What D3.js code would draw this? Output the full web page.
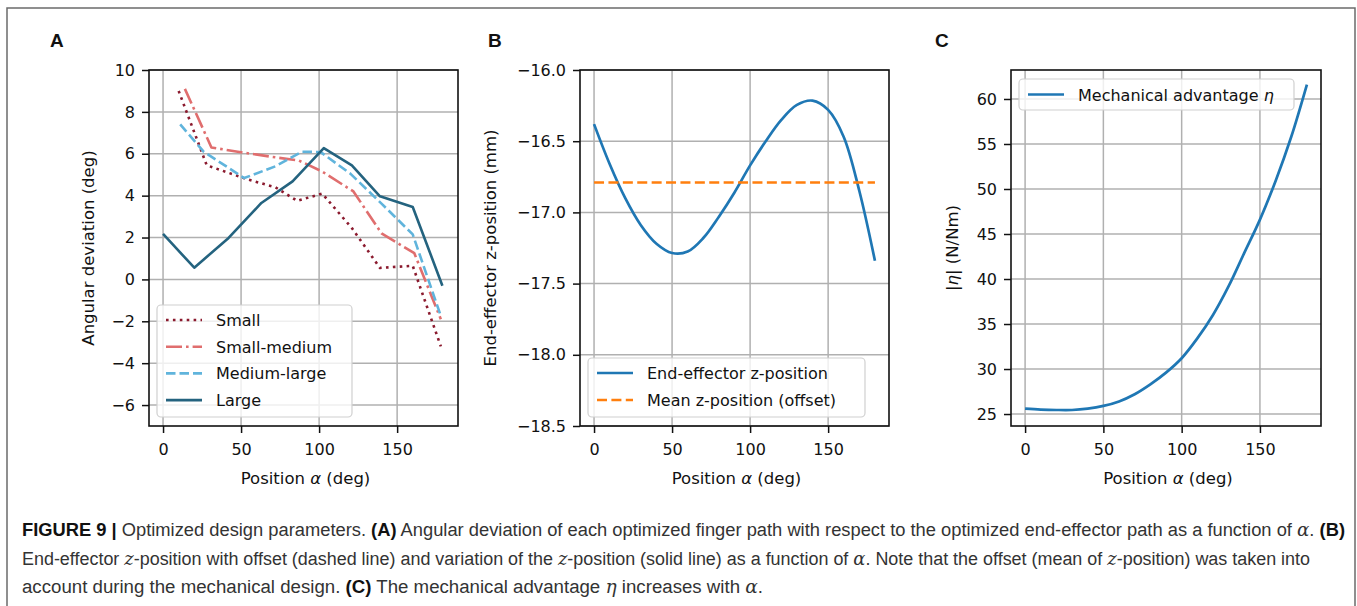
<!DOCTYPE html>
<html>
<head>
<meta charset="utf-8">
<script src="https://cdn.jsdelivr.net/npm/d3@7"></script>
<style>
  body { margin: 0; background: #fff; }
  svg { display: block; }
  .tick text { font-family: "DejaVu Sans", sans-serif; font-size: 16px; fill: #111; }
  .lab { font-family: "DejaVu Sans", sans-serif; font-size: 16.5px; fill: #111; }
  .leg { font-family: "DejaVu Sans", sans-serif; font-size: 16px; fill: #111; }
  .cap { font-family: "Liberation Sans", Arial, sans-serif; font-size: 18px; fill: #333; }
</style>
</head>
<body>
<div id="fig"></div>
<script>
// ---- panel A: angular deviation of each finger path
const alphaSmall = [10, 28, 54, 72, 86, 102, 121, 139, 160, 178];
const devSmall = [9.0, 5.45, 4.78, 4.4, 3.75, 4.1, 2.45, 0.55, 0.65, -3.2];
const alphaSmallMed = [14, 31, 52, 70, 87, 102, 122, 140, 161, 178];
const devSmallMed = [9.1, 6.3, 6.05, 5.85, 5.68, 5.15, 4.2, 2.2, 1.25, -1.9];
const alphaMedLarge = [11, 26, 52, 72, 89, 101, 120, 140, 160, 178];
const devMedLarge = [7.4, 6.1, 4.84, 5.4, 6.1, 6.08, 5.05, 3.62, 2.15, -1.75];
const alphaLarge = [0, 20, 42, 63, 83, 103, 121, 139, 160, 179];
const devLarge = [2.17, 0.56, 1.98, 3.65, 4.68, 6.27, 5.45, 3.97, 3.46, -0.3];
const seriesNamesA = ["Small", "Small-medium", "Medium-large", "Large"];

// ---- panel B: end-effector z-position
const alphaB = [0, 10, 20, 30, 40, 50, 60, 70, 80, 90, 100, 110, 120, 130, 140, 150, 160, 170, 180];
const zPos = [-16.38, -16.66, -16.90, -17.09, -17.22, -17.285, -17.275, -17.18, -17.03, -16.86,
              -16.67, -16.50, -16.35, -16.245, -16.215, -16.28, -16.47, -16.85, -17.34];
const zMean = -16.79;

// ---- panel C: mechanical advantage
const alphaC = [0, 10, 20, 30, 40, 50, 60, 70, 80, 90, 100, 110, 120, 130, 140, 150, 160, 170, 180];
const eta = [25.6, 25.5, 25.45, 25.45, 25.6, 25.9, 26.4, 27.2, 28.3, 29.6,
             31.2, 33.4, 36.0, 39.2, 42.9, 46.6, 50.9, 55.8, 61.6];

const xTicks = [0, 50, 100, 150];
const yTicksA = [-6, -4, -2, 0, 2, 4, 6, 8, 10];
const yTicksB = [-18.5, -18.0, -17.5, -17.0, -16.5, -16.0];
const yTicksC = [25, 30, 35, 40, 45, 50, 55, 60];

const W = 1357, H = 606;
const svg = d3.select("#fig").append("svg").attr("width", W).attr("height", H);

// outer frame of the figure
svg.append("path").attr("d", "M7,606 L7,8 L1355,8 L1355,606")
  .attr("fill", "none").attr("stroke", "#6b6b6b").attr("stroke-width", 1.5);

const minus = s => String(s).replace("-", "\u2212");
const plotTop = 70, plotBottom = 426;

function panel(opt) {
  const x = d3.scaleLinear().domain([-9, 189]).range([opt.left, opt.right]);
  const y = d3.scaleLinear().domain(opt.yDomain).range([plotBottom, plotTop]);
  const g = svg.append("g");

  // grid
  g.selectAll(".gx").data(xTicks).enter().append("line")
    .attr("x1", d => x(d)).attr("x2", d => x(d)).attr("y1", plotTop).attr("y2", plotBottom)
    .attr("stroke", "#b0b0b0").attr("stroke-width", 1.5);
  g.selectAll(".gy").data(opt.yTicks).enter().append("line")
    .attr("y1", d => y(d)).attr("y2", d => y(d)).attr("x1", opt.left).attr("x2", opt.right)
    .attr("stroke", "#b0b0b0").attr("stroke-width", 1.5);

  const xa = g.append("g").attr("transform", `translate(0,${plotBottom})`)
    .call(d3.axisBottom(x).tickValues(xTicks).tickSize(7).tickPadding(8).tickFormat(d => d));
  const ya = g.append("g").attr("transform", `translate(${opt.left},0)`)
    .call(d3.axisLeft(y).tickValues(opt.yTicks).tickSize(7).tickPadding(7).tickFormat(opt.fmt));
  [xa, ya].forEach(a => {
    a.select(".domain").remove();
    a.selectAll(".tick line").attr("stroke", "#111").attr("stroke-width", 1.5);
  });
  xa.selectAll(".tick text").attr("dy", "0.9em");

  opt.draw(g, x, y);

  g.append("rect").attr("x", opt.left).attr("y", plotTop)
    .attr("width", opt.right - opt.left).attr("height", plotBottom - plotTop)
    .attr("fill", "none").attr("stroke", "#111").attr("stroke-width", 1.6);

  // x label
  const xl = g.append("text").attr("class", "lab").attr("x", (opt.left + opt.right) / 2 + 2)
    .attr("y", 484).attr("text-anchor", "middle");
  xl.append("tspan").text("Position ");
  xl.append("tspan").attr("font-style", "italic").text("\u03b1");
  xl.append("tspan").text(" (deg)");

  // y label
  const yl = g.append("text").attr("class", "lab")
    .attr("transform", `translate(${opt.ylabX},${(plotTop + plotBottom) / 2}) rotate(-90)`)
    .attr("text-anchor", "middle").attr("dominant-baseline", "central");
  opt.ylabel.forEach(p => yl.append("tspan").attr("font-style", p[1] ? "italic" : null).text(p[0]));

  // panel letter
  svg.append("text").attr("x", opt.letterX).attr("y", 47)
    .attr("font-family", "Liberation Sans, Arial, sans-serif").attr("font-weight", "bold")
    .attr("font-size", 19).attr("fill", "#111").text(opt.letter);

  // legend
  const lg = g.append("g");
  lg.append("rect").attr("x", opt.leg.x).attr("y", opt.leg.y)
    .attr("width", opt.leg.w).attr("height", opt.leg.h).attr("rx", 4)
    .attr("fill", "white").attr("fill-opacity", 0.8).attr("stroke", "#d0d0d0").attr("stroke-width", 1.2);
  opt.leg.items.forEach((it, i) => {
    const yy = opt.leg.y + opt.leg.first + i * opt.leg.step;
    lg.append("line").attr("x1", opt.leg.x + 9).attr("x2", opt.leg.x + 45)
      .attr("y1", yy).attr("y2", yy)
      .attr("stroke", it.color).attr("stroke-width", it.w).attr("stroke-dasharray", it.dash);
    const t = lg.append("text").attr("class", "leg").attr("x", opt.leg.x + 59).attr("y", yy)
      .attr("dominant-baseline", "central");
    it.label.forEach(p => t.append("tspan").attr("font-style", p[1] ? "italic" : null).text(p[0]));
  });
}

const colA = ["#8b1a2e", "#e06e6e", "#60b4dc", "#24637f"];
const dashA = ["2.6,4.3", "16,4,2.6,4", "9.5,4", null];

panel({
  letter: "A", letterX: 50, left: 149, right: 458, yDomain: [-7, 10], yTicks: yTicksA,
  fmt: d => minus(d), ylabX: 88, ylabel: [["Angular deviation (deg)"]],
  draw: (g, x, y) => {
    const sets = [[alphaSmall, devSmall], [alphaSmallMed, devSmallMed],
                  [alphaMedLarge, devMedLarge], [alphaLarge, devLarge]];
    sets.forEach((s, i) => {
      const pts = s[0].map((a, k) => [a, s[1][k]]);
      g.append("path").datum(pts)
        .attr("d", d3.line().x(d => x(d[0])).y(d => y(d[1])))
        .attr("fill", "none").attr("stroke", colA[i]).attr("stroke-width", 2.6)
        .attr("stroke-dasharray", dashA[i]).attr("stroke-linejoin", "round");
    });
  },
  leg: { x: 157, y: 305, w: 195, h: 112, first: 15, step: 26.7,
    items: seriesNamesA.map((n, i) => ({ label: [[n]], color: colA[i], dash: dashA[i], w: 2.6 })) }
});

panel({
  letter: "B", letterX: 488, left: 580, right: 889, yDomain: [-18.5, -16.0], yTicks: yTicksB,
  fmt: d => minus(d.toFixed(1)), ylabX: 490, ylabel: [["End-effector z-position (mm)"]],
  draw: (g, x, y) => {
    g.append("path").datum(alphaB.map((a, k) => [a, zPos[k]]))
      .attr("d", d3.line().x(d => x(d[0])).y(d => y(d[1])).curve(d3.curveCatmullRom))
      .attr("fill", "none").attr("stroke", "#1f77b4").attr("stroke-width", 2.7);
    g.append("line").attr("x1", x(0)).attr("x2", x(180)).attr("y1", y(zMean)).attr("y2", y(zMean))
      .attr("stroke", "#ff7f0e").attr("stroke-width", 2.7).attr("stroke-dasharray", "10,4.4");
  },
  leg: { x: 588, y: 358, w: 277, h: 59, first: 15, step: 27,
    items: [
      { label: [["End-effector z-position"]], color: "#1f77b4", dash: null, w: 2.7 },
      { label: [["Mean z-position (offset)"]], color: "#ff7f0e", dash: "10,4.4", w: 2.7 }
    ] }
});

panel({
  letter: "C", letterX: 935, left: 1011, right: 1321, yDomain: [23.67, 63.22], yTicks: yTicksC,
  fmt: d => d, ylabX: 952, ylabel: [["|"], ["\u03b7", true], ["| (N/Nm)"]],
  draw: (g, x, y) => {
    g.append("path").datum(alphaC.map((a, k) => [a, eta[k]]))
      .attr("d", d3.line().x(d => x(d[0])).y(d => y(d[1])).curve(d3.curveCatmullRom))
      .attr("fill", "none").attr("stroke", "#1f77b4").attr("stroke-width", 2.7);
  },
  leg: { x: 1019, y: 79, w: 275, h: 31, first: 15.5, step: 27,
    items: [{ label: [["Mechanical advantage "], ["\u03b7", true]], color: "#1f77b4", dash: null, w: 2.7 }] }
});

// ---- caption
const capLines = [
  { y: 536, len: 1323, parts: [["FIGURE 9 | ", "b"], ["Optimized design parameters. "], ["(A)", "b"],
    [" Angular deviation of each optimized finger path with respect to the optimized end-effector path as a function of "],
    ["\u03b1", "i"], [". "], ["(B)", "b"]] },
  { y: 565, len: 1288, parts: [["End-effector "], ["z", "i"], ["-position with offset (dashed line) and variation of the "],
    ["z", "i"], ["-position (solid line) as a function of "], ["\u03b1", "i"],
    [". Note that the offset (mean of "], ["z", "i"], ["-position) was taken into"]] },
  { y: 593, len: 741, parts: [["account during the mechanical design. "], ["(C)", "b"],
    [" The mechanical advantage "], ["\u03b7", "i"], [" increases with "], ["\u03b1", "i"], ["."]] }
];
capLines.forEach(l => {
  const t = svg.append("text").attr("class", "cap").attr("x", 22).attr("y", l.y);
  l.parts.forEach(p => {
    const s = t.append("tspan").text(p[0]);
    if (p[1] === "b") s.attr("font-weight", "bold").attr("fill", "#111");
    if (p[1] === "i") s.attr("font-style", "italic").attr("font-family", "DejaVu Serif, serif");
  });
  if (l.len) t.attr("textLength", l.len).attr("lengthAdjust", "spacingAndGlyphs");
});
</script>
</body>
</html>
